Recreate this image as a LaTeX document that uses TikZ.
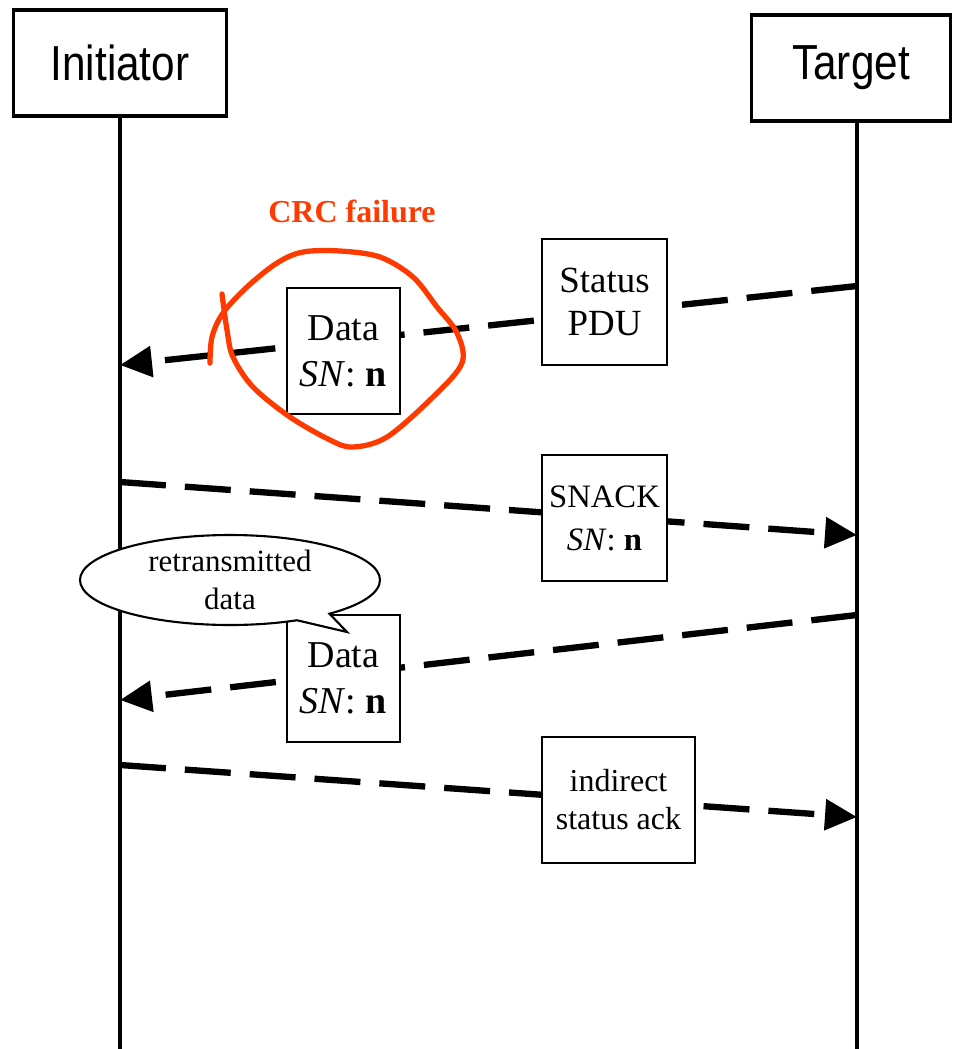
\documentclass[tikz,border=0pt]{standalone}
\usepackage{fontspec}
\setmainfont{Liberation Serif}
\setsansfont{Liberation Sans}
\usetikzlibrary{positioning,shapes.callouts,arrows.meta}
\definecolor{crcred}{RGB}{255,58,0}

\begin{document}
\begin{tikzpicture}[x=0.1mm,y=-0.1mm]
	\tikzset{
		actor/.style={draw,line width=1.1pt,minimum width=21.3mm,minimum height=10.6mm,inner sep=0pt,font=\sffamily\fontsize{14}{16}\selectfont},
		msgbox/.style={draw,fill=white,line width=0.6pt,inner sep=0pt,align=center,minimum height=12.6mm},
		msgline/.style={line width=1.8pt,dash pattern=on 4.6mm off 1.9mm,-{Triangle[length=3.2mm,width=3mm]}},
		lifeline/.style={line width=1.05pt},
	}
	\useasboundingbox (0,0) rectangle (953,1049);

	\node[actor] (ini) at (120,63) {\scalebox{0.86}[1]{Initiator}};
	\node[actor,minimum width=19.9mm] (tgt) at (851,68) {\scalebox{0.86}[1]{Target}};
	\coordinate (iniend) at (120,1049);
	\coordinate (tgtend) at (857,1049);
	\draw[lifeline] (ini.south) -- (iniend);
	\draw[lifeline] (tgt.south -| tgtend) -- (tgtend);

	% message ends on the lifelines
	\coordinate (t1) at (857,286);
	\coordinate (i1) at (120,365);
	\coordinate (i2) at (120,482);
	\coordinate (t2) at (857,535);
	\coordinate (t3) at (857,615);
	\coordinate (i3) at (120,700);
	\coordinate (i4) at (120,765);
	\coordinate (t4) at (857,817);

	\draw[msgline] (t1) -- (i1);
	\draw[msgline] (i2) -- (t2);
	\draw[msgline] (t3) -- (i3);
	\draw[msgline] (i4) -- (t4);

	\node[msgbox,minimum width=12.5mm,font=\fontsize{10.5}{12}\selectfont] (status) at (604.5,302) {Status\\PDU};
	\node[msgbox,minimum width=11.3mm,font=\fontsize{10.8}{13}\selectfont] (data1) at (343.5,351) {Data\\\textit{SN}: \textbf{n}};
	\node[msgbox,minimum width=12.5mm,font=\fontsize{9.3}{12.2}\selectfont] (snack) at (604.5,518) {SNACK\\\textit{SN}: \textbf{n}};
	\node[msgbox,minimum width=11.3mm,minimum height=12.7mm,font=\fontsize{10.8}{13}\selectfont] (data2) at (343.5,678.5) {Data\\\textit{SN}: \textbf{n}};
	\node[msgbox,minimum width=15.3mm,font=\fontsize{9.1}{10.8}\selectfont] (ack) at (618.5,800) {indirect\\status ack};

	\node[ellipse callout,draw,fill=white,line width=0.6pt,minimum width=30mm,minimum height=9mm,inner sep=0pt,align=center,
		font=\fontsize{8.8}{10.8}\selectfont,callout absolute pointer={(347,632)}] (bubble) at (230,580) {retransmitted\\data};

	% hand drawn loop round the lost PDU
	\draw[crcred,line width=1.5pt,line cap=round] plot[smooth,tension=0.55] coordinates {
		(222,294) (227,330) (233,357) (253,387) (290,417) (330,440) (353,447) (387,437)
		(433,397) (462,363) (457,333) (437,307) (413,277) (380,257) (340,251) (303,252)
		(277,263) (247,287) (223,313) (212,337) (210,363)};
	\node[text=crcred,font=\bfseries\fontsize{9.1}{11}\selectfont] (crc) at (352,211) {CRC failure};
\end{tikzpicture}
\end{document}
